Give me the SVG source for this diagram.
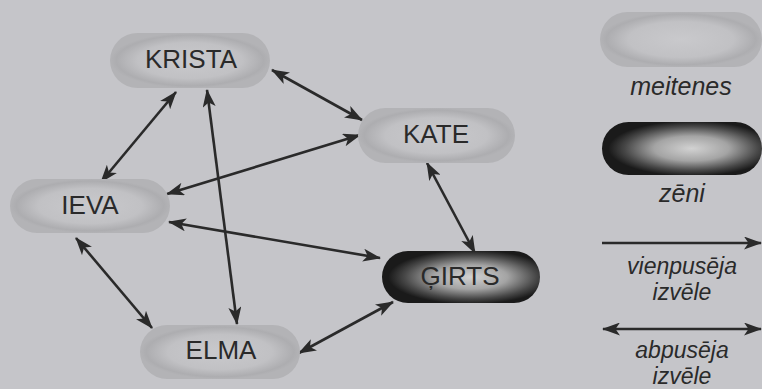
<svg xmlns="http://www.w3.org/2000/svg" width="762" height="389" viewBox="0 0 762 389">
<defs>
<radialGradient id="girl" cx="0.5" cy="0.5" r="0.5">
<stop offset="0" stop-color="#c9c9cc"/>
<stop offset="0.65" stop-color="#c1c1c4"/>
<stop offset="0.92" stop-color="#adadb0"/>
<stop offset="1" stop-color="#b3b3b6"/>
</radialGradient>
<radialGradient id="boy" cx="0.56" cy="0.5" r="0.52">
<stop offset="0" stop-color="#d2d2d2"/>
<stop offset="0.45" stop-color="#a4a4a4"/>
<stop offset="0.8" stop-color="#484848"/>
<stop offset="1" stop-color="#1a1a1a"/>
</radialGradient>
<marker id="ah" viewBox="0 0 18 13" markerUnits="userSpaceOnUse" markerWidth="18" markerHeight="13" refX="17" refY="6.5" orient="auto-start-reverse">
<path d="M0,0 L18,6.5 L0,13 L4.5,6.5 z" fill="#2a2a2a"/>
</marker>
</defs>
<style>
.lbl{font-family:"Liberation Sans",Arial,sans-serif;font-size:26px;fill:#2a2a2a;text-anchor:middle}
.leg{font-family:"Liberation Sans",Arial,sans-serif;font-size:23px;font-style:italic;fill:#2a2a2a;text-anchor:middle}
.leg1{font-size:25px}
.g{fill:url(#girl)}
.b{fill:url(#boy)}
.c{stroke:#2a2a2a;stroke-width:2.6;fill:none;marker-end:url(#ah)}
.c2{marker-start:url(#ah)}
</style>
<rect width="762" height="389" fill="#c5c5c9"/>
<g id="connectors">
<line class="c c2" x1="272" y1="70" x2="362" y2="120"/>
<line class="c c2" x1="176" y1="92" x2="101" y2="182"/>
<line class="c c2" x1="207" y1="90" x2="237" y2="324"/>
<line class="c c2" x1="360" y1="135" x2="167" y2="194"/>
<line class="c c2" x1="169" y1="222" x2="380" y2="258"/>
<line class="c c2" x1="76" y1="238" x2="152" y2="328"/>
<line class="c c2" x1="427" y1="163" x2="475" y2="253"/>
<line class="c c2" x1="299" y1="353" x2="393" y2="302"/>
</g>
<g id="krista"><rect class="g" x="110" y="33" width="160" height="55" rx="27.5"/><text class="lbl" x="191" y="68">KRISTA</text></g>
<g id="kate"><rect class="g" x="358" y="108" width="157" height="55" rx="27.5"/><text class="lbl" x="436" y="143">KATE</text></g>
<g id="ieva"><rect class="g" x="10" y="179" width="160" height="54" rx="27"/><text class="lbl" x="90" y="214">IEVA</text></g>
<g id="elma"><rect class="g" x="140" y="325" width="160" height="54" rx="27"/><text class="lbl" x="221" y="359">ELMA</text></g>
<g id="girts"><rect class="b" x="382" y="251" width="158" height="52" rx="26"/><text class="lbl" x="460" y="285">ĢIRTS</text></g>
<g id="legend">
<rect class="g" x="600" y="12" width="162" height="55" rx="27.5"/>
<text class="leg leg1" x="681" y="95">meitenes</text>
<rect class="b" x="602" y="122" width="160" height="53" rx="26.5"/>
<text class="leg leg1" x="682" y="202">zēni</text>
<line class="c" x1="602" y1="243" x2="761" y2="243"/>
<text class="leg" x="682" y="274">vienpusēja</text>
<text class="leg" x="682" y="300">izvēle</text>
<line class="c c2" x1="603" y1="329" x2="761" y2="329"/>
<text class="leg" x="682" y="358">abpusēja</text>
<text class="leg" x="682" y="384">izvēle</text>
</g>
</svg>
